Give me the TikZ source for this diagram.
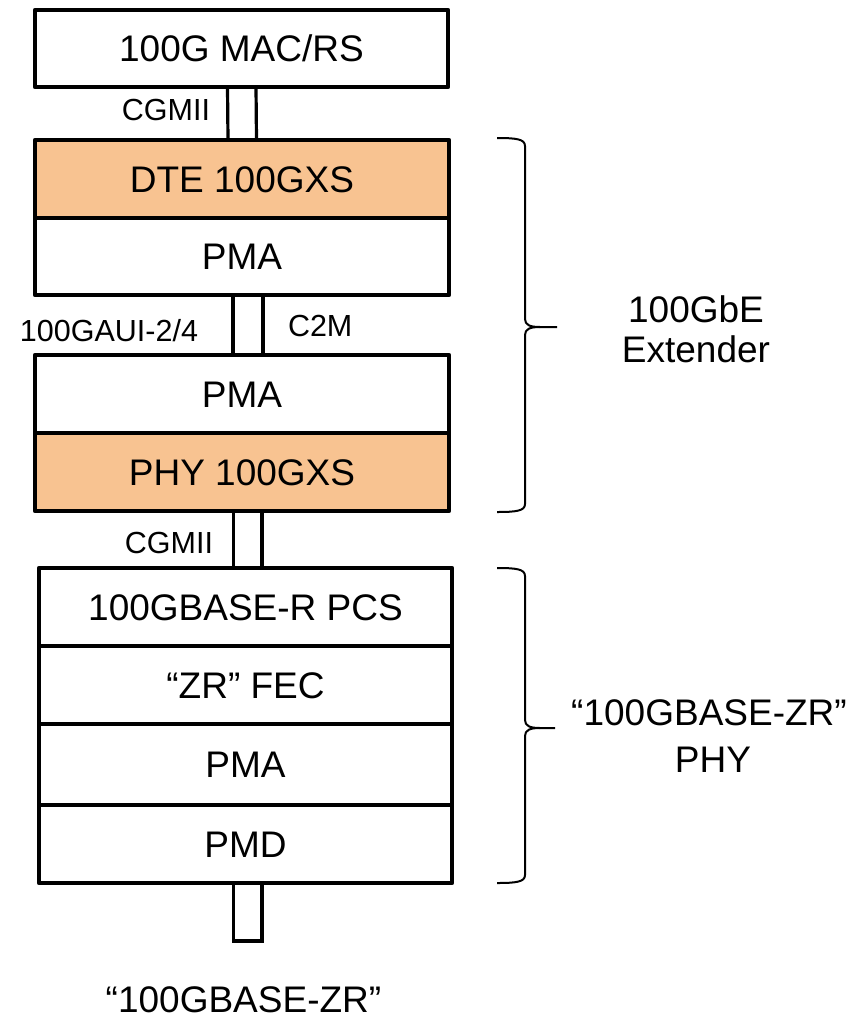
\documentclass[tikz,border=0pt]{standalone}
\usepackage{fontspec}
\setmainfont{Liberation Sans}
\definecolor{xsorange}{HTML}{F8C391}
\begin{document}
\begin{tikzpicture}[x=1pt,y=-1pt,
  layer/.style={draw, line width=4.7pt, line join=round, fill=white,
    inner sep=0pt, outer sep=0pt, minimum width=414pt, minimum height=78pt,
    text height=26.5pt, text depth=0pt, font=\fontsize{37}{44}\selectfont},
  xslayer/.style={layer, fill=xsorange},
  link/.style={draw, line width=3.2pt},
  brace/.style={draw, line width=2pt, line join=round},
  smalllbl/.style={inner sep=0pt, outer sep=0pt, text height=21.8pt, text depth=0pt,
    font=\fontsize{30.5}{36}\selectfont},
  biglbl/.style={inner sep=0pt, outer sep=0pt, anchor=base,
    font=\fontsize{37}{44}\selectfont}
]
\useasboundingbox (0,0) rectangle (856,1021);

% MAC / RS at the top
\node[layer, minimum width=413pt, minimum height=77pt] (mac) at (241.5,48.5) {100G MAC/RS};

% 100GbE extender: DTE side
\node[xslayer] (dte)  at (242,179)   {DTE 100GXS};
\node[layer, minimum height=77pt] (pma1) at (242,256.5) {PMA};

% 100GbE extender: PHY side
\node[layer] (pma2) at (242,394) {PMA};
\node[xslayer] (phy) at (242,472) {PHY 100GXS};

% 100GBASE-ZR PHY stack
\node[layer, minimum width=413pt] (pcs)  at (245.5,607)   {100GBASE-R PCS};
\node[layer, minimum width=413pt] (fec)  at (245.5,685)   {“ZR” FEC};
\node[layer, minimum width=413pt, minimum height=81pt] (pmaz) at (245.5,764.5) {PMA};
\node[layer, minimum width=413pt] (pmd)  at (245.5,844)   {PMD};

% interfaces between sublayers
\draw[link] ([xshift=-14pt]mac.south) -- ([xshift=-14pt]dte.north);
\draw[link] ([xshift=14.5pt]mac.south) -- ([xshift=14.5pt]dte.north);

\draw[link] ([xshift=-9pt]pma1.south) -- ([xshift=-9pt]pma2.north);
\draw[link] ([xshift=21pt]pma1.south) -- ([xshift=21pt]pma2.north);

\draw[link] ([xshift=-8.5pt]phy.south) -- ([xshift=-8.5pt]phy.south |- pcs.north);
\draw[link] ([xshift=20pt]phy.south) -- ([xshift=20pt]phy.south |- pcs.north);

\coordinate (mdi) at (247.75,941);
\draw[link] ([xshift=-12pt]pmd.south) |- (mdi) -| ([xshift=16.5pt]pmd.south);

% interface labels
\node[smalllbl, anchor=east] (cgmii1) at (210,109.5) {CGMII};
\node[smalllbl, anchor=east] (caui)   at (198,331)   {100GAUI-2/4};
\node[smalllbl, anchor=west] (c2m)    at (288,326)   {C2M};
\node[smalllbl, anchor=east] (cgmii2) at (213,542.5) {CGMII};
\node[biglbl] (medium) at (243.5,1012) {“100GBASE-ZR”};

% brace around the extender
\coordinate (b1top) at (497,138);
\coordinate (b1tip) at (557,327);
\coordinate (b1bot) at (497,512);
\draw[brace] (b1top) .. controls (516,138) and (525,139) .. (525,146)
  -- (525,319) .. controls (525,325) and (530,327) .. (540,327) -- (b1tip);
\draw[brace] (540,327) .. controls (530,327) and (525,329) .. (525,335)
  -- (525,504) .. controls (525,511) and (516,512) .. (b1bot);
\node[biglbl] (ext1) at (696,322) {100GbE};
\node[biglbl] (ext2) at (696,362) {Extender};

% brace around the ZR PHY
\coordinate (b2top) at (497,568);
\coordinate (b2tip) at (555,728);
\coordinate (b2bot) at (497,883);
\draw[brace] (b2top) .. controls (516,568) and (525,569) .. (525,576)
  -- (525,720) .. controls (525,726) and (530,728) .. (540,728) -- (b2tip);
\draw[brace] (540,728) .. controls (530,728) and (525,730) .. (525,736)
  -- (525,875) .. controls (525,882) and (516,883) .. (b2bot);
\node[biglbl] (zr1) at (709,725) {“100GBASE-ZR”};
\node[biglbl] (zr2) at (713,772) {PHY};
\end{tikzpicture}
\end{document}
